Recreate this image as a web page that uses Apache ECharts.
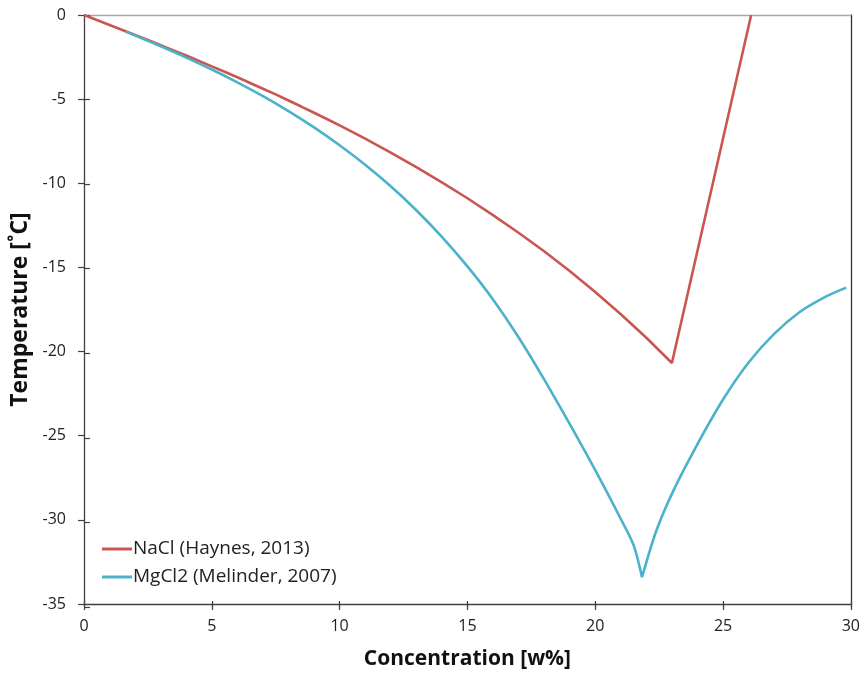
<!DOCTYPE html>
<html>
<head>
<meta charset="utf-8">
<script src="https://cdn.jsdelivr.net/npm/echarts@6/dist/echarts.min.js"></script>
<style>
html,body{margin:0;padding:0;background:#fff;}
#chart{width:863px;height:675px;}
</style>
</head>
<body>
<div id="chart"></div>
<script>
// NaCl (Haynes, 2013): concentration [w%] and freezing temperature [°C]
var naclX = [0, 0.5, 1.0, 1.5, 2.0, 2.5, 3.0, 3.5, 4.0, 4.5, 5.0, 5.5, 6.0, 6.5, 7.0, 7.5, 8.0, 8.5, 9.0, 9.5, 10, 11, 12, 13, 14, 15, 16, 17, 18, 19, 20, 21, 22, 23, 26.1];
var naclY = [0, -0.30, -0.59, -0.89, -1.19, -1.49, -1.79, -2.10, -2.41, -2.73, -3.05, -3.37, -3.70, -4.04, -4.38, -4.72, -5.08, -5.44, -5.81, -6.18, -6.56, -7.35, -8.18, -9.04, -9.94, -10.89, -11.89, -12.94, -14.04, -15.21, -16.46, -17.78, -19.18, -20.68, 0];

// MgCl2 (Melinder, 2007): ice branch and salt-hydrate branch
var mgIceX = [1.63, 2, 3, 4, 5, 6, 7, 8, 9, 10, 11, 12, 13, 14, 15, 16, 17, 18, 19, 20, 21, 21.5, 21.83];
var mgIceY = [-0.99, -1.22, -1.86, -2.53, -3.24, -4.00, -4.82, -5.71, -6.68, -7.74, -8.90, -10.18, -11.60, -13.18, -14.94, -16.90, -19.15, -21.65, -24.30, -27.05, -29.95, -31.5, -33.41];
var mgSaltX = [21.83, 22.39, 23.05, 24.0, 25.0, 26.0, 27.0, 28.0, 29.0, 29.82];
var mgSaltY = [-33.41, -30.65, -28.29, -25.5, -22.85, -20.65, -18.95, -17.65, -16.75, -16.2];

var naclName = 'NaCl (Haynes, 2013)';
var mgName = 'MgCl2 (Melinder, 2007)';
var xTitle = 'Concentration [w%]';
var yTitle = 'Temperature [˚C]';

function pairs(xs, ys) { return xs.map(function (x, i) { return [x, ys[i]]; }); }

var FONT = 'Open Sans';
var RED = '#C9574F';
var CYAN = '#4BB2CB';
var AX = '#404040';

var gridRect = {left: 84, right: 12, top: 15, bottom: 68, containLabel: false};

var chart = echarts.init(document.getElementById('chart'), null, {renderer: 'canvas'});
chart.setOption({
  animation: false,
  backgroundColor: '#ffffff',
  grid: [Object.assign({}, gridRect), Object.assign({}, gridRect)],
  legend: {
    orient: 'vertical', left: 97, top: 533, itemGap: 6,
    icon: 'rect', itemWidth: 30, itemHeight: 3,
    textStyle: {fontFamily: FONT, fontSize: 19, lineHeight: 22, color: '#222', padding: [0, 0, 0, -4]},
    data: [naclName, mgName]
  },
  xAxis: [
    {gridIndex: 0, type: 'value', min: 0, max: 30, interval: 5, position: 'bottom',
     axisLine: {onZero: false, lineStyle: {color: AX, width: 1.3}},
     axisTick: {show: true, inside: false, length: 6, lineStyle: {color: AX, width: 1.2}},
     axisLabel: {margin: 14, fontFamily: FONT, fontSize: 16, color: '#222'},
     splitLine: {show: false},
     name: xTitle, nameLocation: 'middle', nameGap: 45,
     nameTextStyle: {fontFamily: FONT, fontSize: 21, fontWeight: 'bold', color: '#111'}},
    {gridIndex: 1, type: 'value', min: 0, max: 30, interval: 5, position: 'bottom',
     axisLine: {show: false, onZero: false},
     axisTick: {show: true, inside: true, length: 6, lineStyle: {color: AX, width: 1.2}},
     axisLabel: {show: false}, splitLine: {show: false}},
    {gridIndex: 0, type: 'value', min: 0, max: 30, position: 'top',
     axisLine: {onZero: false, lineStyle: {color: '#a6a6a6', width: 1.3}},
     axisTick: {show: false}, axisLabel: {show: false}, splitLine: {show: false}}
  ],
  yAxis: [
    {gridIndex: 0, type: 'value', min: -35, max: 0, interval: 5, position: 'left',
     axisLine: {onZero: false, lineStyle: {color: AX, width: 1.3}},
     axisTick: {show: true, inside: false, length: 6, lineStyle: {color: AX, width: 1.2}},
     axisLabel: {margin: 18, fontFamily: FONT, fontSize: 16, color: '#222'},
     splitLine: {show: false},
     name: yTitle, nameLocation: 'middle', nameGap: 47, nameRotate: 90,
     nameTextStyle: {fontFamily: FONT, fontSize: 23, fontWeight: 'bold', color: '#111'}},
    {gridIndex: 1, type: 'value', min: -35, max: 0, interval: 5, position: 'left',
     axisLine: {show: false, onZero: false},
     axisTick: {show: true, inside: true, length: 6, lineStyle: {color: AX, width: 1.2}},
     axisLabel: {show: false}, splitLine: {show: false}},
    {gridIndex: 0, type: 'value', min: -35, max: 0, position: 'right',
     axisLine: {onZero: false, lineStyle: {color: '#333', width: 1.3}},
     axisTick: {show: false}, axisLabel: {show: false}, splitLine: {show: false}}
  ],
  series: [
    {name: naclName, type: 'line', xAxisIndex: 0, yAxisIndex: 0, data: pairs(naclX, naclY), showSymbol: false, symbol: 'none',
     lineStyle: {color: RED, width: 2.6}, itemStyle: {color: RED}, smooth: false, clip: true},
    {name: mgName, type: 'line', xAxisIndex: 0, yAxisIndex: 0, data: pairs(mgIceX, mgIceY), showSymbol: false, symbol: 'none',
     lineStyle: {color: CYAN, width: 2.6}, itemStyle: {color: CYAN}, smooth: 0.3, clip: true},
    {name: mgName, type: 'line', xAxisIndex: 0, yAxisIndex: 0, data: pairs(mgSaltX, mgSaltY), showSymbol: false, symbol: 'none',
     lineStyle: {color: CYAN, width: 2.6}, itemStyle: {color: CYAN}, smooth: 0.3, clip: true}
  ]
});
</script>
</body>
</html>
